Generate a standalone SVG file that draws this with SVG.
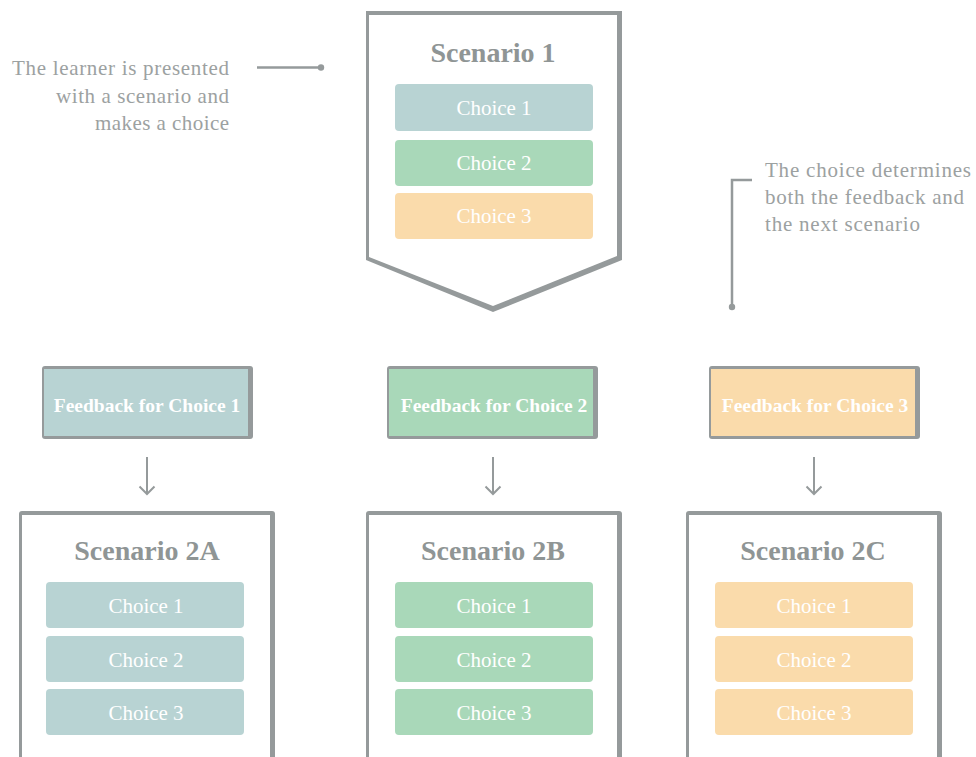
<svg xmlns="http://www.w3.org/2000/svg" width="976" height="757" viewBox="0 0 976 757">
<style>
.border{fill:#959a9b}
.inner{fill:#ffffff}
.teal{fill:#b8d3d3}
.green{fill:#a9d8b9}
.orange{fill:#fadbab}
.title{font-family:"Liberation Serif","Times New Roman",serif;font-weight:bold;font-size:28px;fill:#8f9595;text-anchor:middle}
.choice{font-family:"Liberation Serif","Times New Roman",serif;font-size:21px;fill:#ffffff;text-anchor:middle}
.fb{font-family:"Liberation Serif","Times New Roman",serif;font-weight:bold;font-size:19.5px;fill:#ffffff;text-anchor:middle}
.note{font-family:"Liberation Serif","Times New Roman",serif;font-size:21px;fill:#9ca1a1}
.line{stroke:#959a9b;stroke-width:2.5;fill:none}
.arrow{stroke:#959a9b;stroke-width:2;fill:none}
.dot{fill:#959a9b}
</style>
<rect width="976" height="757" fill="#ffffff"/>

<g id="note-left">
<text class="note" text-anchor="end" x="229" y="75" textLength="217" lengthAdjust="spacing">The learner is presented</text>
<text class="note" text-anchor="end" x="229" y="103" textLength="173" lengthAdjust="spacing">with a scenario and</text>
<text class="note" text-anchor="end" x="229" y="130" textLength="134" lengthAdjust="spacing">makes a choice</text>
</g>
<g id="note-right">
<text class="note" x="765" y="177" textLength="206" lengthAdjust="spacing">The choice determines</text>
<text class="note" x="765" y="204" textLength="199" lengthAdjust="spacing">both the feedback and</text>
<text class="note" x="765" y="231" textLength="155" lengthAdjust="spacing">the next scenario</text>
</g>

<g id="connectors">
<path class="line" d="M257 67.5 H321"/>
<circle class="dot" cx="321" cy="67.5" r="3.2"/>
<path class="line" d="M752 180 H732 V307"/>
<circle class="dot" cx="732" cy="307" r="3.2"/>
<path class="arrow" d="M147 457 V494 M139.5 486.5 L147 494 L154.5 486.5"/>
<path class="arrow" d="M493 457 V494 M485.5 486.5 L493 494 L500.5 486.5"/>
<path class="arrow" d="M814 457 V494 M806.5 486.5 L814 494 L821.5 486.5"/>
</g>

<g id="scenario1">
<polygon class="border" points="366,11 622,11 622,260 493,312 366,260"/>
<polygon class="inner" points="369,15 617,15 617,256 493,306 369,257"/>
<text class="title" x="493" y="62">Scenario 1</text>
<rect class="teal" x="395" y="84" width="198" height="47" rx="4"/>
<text class="choice" x="494" y="115">Choice 1</text>
<rect class="green" x="395" y="140" width="198" height="46" rx="4"/>
<text class="choice" x="494" y="170">Choice 2</text>
<rect class="orange" x="395" y="193" width="198" height="46" rx="4"/>
<text class="choice" x="494" y="223">Choice 3</text>
</g>

<g id="feedback1">
<rect class="border" x="42" y="366" width="211" height="73" rx="3"/>
<rect class="teal" x="44" y="369" width="204" height="67"/>
<text class="fb" x="147" y="412">Feedback for Choice 1</text>
</g>
<g id="feedback2">
<rect class="border" x="387" y="366" width="211" height="73" rx="3"/>
<rect class="green" x="389" y="369" width="204" height="67"/>
<text class="fb" x="494" y="412">Feedback for Choice 2</text>
</g>
<g id="feedback3">
<rect class="border" x="709" y="366" width="211" height="73" rx="3"/>
<rect class="orange" x="711" y="369" width="204" height="67"/>
<text class="fb" x="815" y="412">Feedback for Choice 3</text>
</g>

<g id="scenario2a">
<rect class="border" x="19" y="511" width="256" height="260" rx="3"/>
<rect class="inner" x="22" y="515" width="248" height="260"/>
<text class="title" x="147" y="560">Scenario 2A</text>
<rect class="teal" x="46" y="582" width="198" height="46" rx="4"/>
<text class="choice" x="146" y="613">Choice 1</text>
<rect class="teal" x="46" y="636" width="198" height="46" rx="4"/>
<text class="choice" x="146" y="667">Choice 2</text>
<rect class="teal" x="46" y="689" width="198" height="46" rx="4"/>
<text class="choice" x="146" y="720">Choice 3</text>
</g>

<g id="scenario2b">
<rect class="border" x="366" y="511" width="256" height="260" rx="3"/>
<rect class="inner" x="369" y="515" width="248" height="260"/>
<text class="title" x="493" y="560">Scenario 2B</text>
<rect class="green" x="395" y="582" width="198" height="46" rx="4"/>
<text class="choice" x="494" y="613">Choice 1</text>
<rect class="green" x="395" y="636" width="198" height="46" rx="4"/>
<text class="choice" x="494" y="667">Choice 2</text>
<rect class="green" x="395" y="689" width="198" height="46" rx="4"/>
<text class="choice" x="494" y="720">Choice 3</text>
</g>

<g id="scenario2c">
<rect class="border" x="686" y="511" width="256" height="260" rx="3"/>
<rect class="inner" x="689" y="515" width="248" height="260"/>
<text class="title" x="813" y="560">Scenario 2C</text>
<rect class="orange" x="715" y="582" width="198" height="46" rx="4"/>
<text class="choice" x="814" y="613">Choice 1</text>
<rect class="orange" x="715" y="636" width="198" height="46" rx="4"/>
<text class="choice" x="814" y="667">Choice 2</text>
<rect class="orange" x="715" y="689" width="198" height="46" rx="4"/>
<text class="choice" x="814" y="720">Choice 3</text>
</g>
</svg>
